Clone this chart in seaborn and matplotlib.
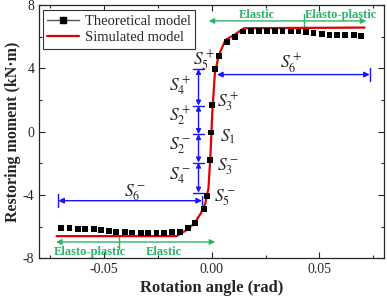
import matplotlib
matplotlib.use("Agg")
import matplotlib.pyplot as plt
from matplotlib.lines import Line2D
from matplotlib.ticker import MultipleLocator, FormatStrFormatter
import seaborn as sns
import pandas as pd

# === Data ===
theo_angle = [-0.0701, -0.0660, -0.0621, -0.0587, -0.0548, -0.0513, -0.0477, -0.0443,
              -0.0403, -0.0368, -0.0330, -0.0294, -0.0256, -0.0220, -0.0182, -0.0146,
              -0.0111, -0.0076, -0.0037, -0.0020, -0.0008, -0.0003, 0.0002, 0.0017,
              0.0036, 0.0070, 0.0107, 0.0145, 0.0181, 0.0220, 0.0256, 0.0293,
              0.0329, 0.0368, 0.0403, 0.0438, 0.0473, 0.0511, 0.0547, 0.0583,
              0.0621, 0.0659, 0.0695]
theo_moment = [-6.11, -6.11, -6.13, -6.13, -6.17, -6.22, -6.28, -6.33,
               -6.35, -6.37, -6.39, -6.41, -6.41, -6.39, -6.35, -6.33,
               -6.07, -5.75, -4.87, -4.06, -1.78, -0.05, 1.71, 3.98,
               4.80, 5.67, 6.00, 6.33, 6.37, 6.39, 6.39, 6.39,
               6.37, 6.33, 6.33, 6.28, 6.24, 6.17, 6.11, 6.09,
               6.09, 6.09, 6.07]

sim_angle = [-0.0720, -0.0163, -0.0120, -0.0080, -0.0050, -0.0030, -0.0015, -0.0006,
             0.0003, 0.0015, 0.0033, 0.0064, 0.0103, 0.0150, 0.0710]
sim_moment = [-6.60, -6.60, -6.25, -5.80, -5.15, -4.55, -3.60, -1.60,
              1.20, 3.70, 4.83, 5.80, 6.10, 6.54, 6.58]

# dimension levels for S2/S4 arrows and S6 arrows
level_y = [3.97, 1.65, -0.15, -1.95, -3.85]
s6_pos = (0.0025, 0.0734, 3.61)
s6_neg = (-0.0712, -0.0045, -4.36)

theo = pd.DataFrame({"angle": theo_angle, "moment": theo_moment})
sim = pd.DataFrame({"angle": sim_angle, "moment": sim_moment})

BLUE = "#1414ff"
GREEN = "#2db46a"
RED = "#e00000"

# === Plot ===
sns.set_style("ticks")
plt.rcParams["font.family"] = ["Liberation Serif", "DejaVu Serif"]
plt.rcParams["mathtext.fontset"] = "stix"
plt.rcParams["axes.unicode_minus"] = False

fig = plt.figure(figsize=(3.87, 3.00), dpi=100)
ax = fig.add_axes([0.1016, 0.139, 0.8906, 0.844])

sns.lineplot(data=sim, x="angle", y="moment", sort=False, color=RED, lw=1.6, ax=ax, zorder=3)
sns.scatterplot(data=theo, x="angle", y="moment", marker="s", color="black", s=18,
                edgecolor="none", ax=ax, zorder=4)

# vertical dimension arrows (S4+, S2+, S2-, S4-)
xv = -0.0061
for a, b in zip(level_y[:-1], level_y[1:]):
    ax.annotate("", xy=(xv, b), xytext=(xv, a),
                arrowprops=dict(arrowstyle="<|-|>", color=BLUE, lw=1.0, mutation_scale=7,
                                shrinkA=0, shrinkB=0))
for ly in level_y:
    ax.plot([xv - 0.0024, xv + 0.0024], [ly, ly], color=BLUE, lw=1.0)

# horizontal S6 arrows
for x0, x1, yy in [s6_pos, s6_neg]:
    ax.annotate("", xy=(x1, yy), xytext=(x0, yy),
                arrowprops=dict(arrowstyle="<|-|>", color=BLUE, lw=1.0, mutation_scale=8,
                                shrinkA=0, shrinkB=0))
ax.plot([s6_pos[1], s6_pos[1]], [s6_pos[2] - 0.4, s6_pos[2] + 0.4], color=BLUE, lw=1.0)
ax.plot([s6_neg[0], s6_neg[0]], [s6_neg[2] - 0.4, s6_neg[2] + 0.4], color=BLUE, lw=1.0)
ax.plot([s6_neg[1], s6_neg[1]], [s6_neg[2] - 0.3, s6_neg[2] + 0.3], color=BLUE, lw=1.0)

# green range arrows
for x0, x1, xd, yy in [(-0.0014, 0.0718, 0.043, 7.0), (-0.0723, 0.0017, -0.0431, -6.97)]:
    ax.annotate("", xy=(x1, yy), xytext=(x0, yy),
                arrowprops=dict(arrowstyle="<|-|>", color=GREEN, lw=1.0, mutation_scale=8,
                                shrinkA=0, shrinkB=0))
    ax.plot([xd, xd], [yy - 0.42, yy + 0.42], color=GREEN, lw=1.0)

gfont = dict(color=GREEN, fontsize=9, fontweight="bold", ha="center", va="center")
ax.text(0.021, 7.38, "Elastic", **gfont)
ax.text(0.060, 7.38, "Elasto-plastic", **gfont)
ax.text(-0.0567, -7.58, "Elasto-plastic", **gfont)
ax.text(-0.0224, -7.58, "Elastic", **gfont)

# S labels
sfont = dict(fontsize=12.5, ha="center", va="center")
ax.text(-0.0034, 4.45, r"$S_5^+$", **sfont)
ax.text(-0.0146, 2.9, r"$S_4^+$", **sfont)
ax.text(-0.0146, 0.98, r"$S_2^+$", **sfont)
ax.text(-0.0146, -0.85, r"$S_2^-$", **sfont)
ax.text(-0.0146, -2.78, r"$S_4^-$", **sfont)
ax.text(0.0075, 1.84, r"$S_3^+$", **sfont)
ax.text(0.0075, -0.3, r"$S_1$", **sfont)
ax.text(0.0075, -2.22, r"$S_3^-$", **sfont)
ax.text(0.0064, -4.15, r"$S_5^-$", **sfont)
ax.text(0.0368, 4.3, r"$S_6^+$", **sfont)
ax.text(-0.0357, -3.83, r"$S_6^-$", **sfont)

# axes
ax.set_xlim(-0.08, 0.08)
ax.set_ylim(-8, 8)
ax.xaxis.set_major_locator(MultipleLocator(0.05))
ax.xaxis.set_minor_locator(MultipleLocator(0.025))
ax.xaxis.set_major_formatter(FormatStrFormatter("%.2f"))
ax.yaxis.set_major_locator(MultipleLocator(4))
ax.yaxis.set_minor_locator(MultipleLocator(2))
ax.tick_params(which="both", direction="in", top=True, right=True, labelsize=10, width=0.8)
ax.tick_params(which="major", length=4)
ax.tick_params(which="minor", length=2.5)
for sp in ax.spines.values():
    sp.set_linewidth(0.9)
ax.set_xlabel("Rotation angle (rad)", fontsize=12, fontweight="bold", labelpad=3)
ax.set_ylabel("Restoring moment (kN·m)", fontsize=11.5, fontweight="bold", labelpad=1)

handles = [Line2D([], [], color="#555555", lw=1.0, marker="s", markersize=4,
                  markerfacecolor="black", markeredgecolor="black"),
           Line2D([], [], color=RED, lw=1.6)]
leg = ax.legend(handles, ["Theoretical model", "Simulated model"], loc="upper left",
                bbox_to_anchor=(0.01, 0.98), fontsize=10.5, frameon=True, fancybox=False,
                handlelength=2.2, handletextpad=0.4, borderpad=0.3, labelspacing=0.22,
                borderaxespad=0)
leg.get_frame().set_edgecolor("black")
leg.get_frame().set_linewidth(0.8)

fig.savefig("out.png", dpi=100)
plt.close(fig)
print("saved out.png")
